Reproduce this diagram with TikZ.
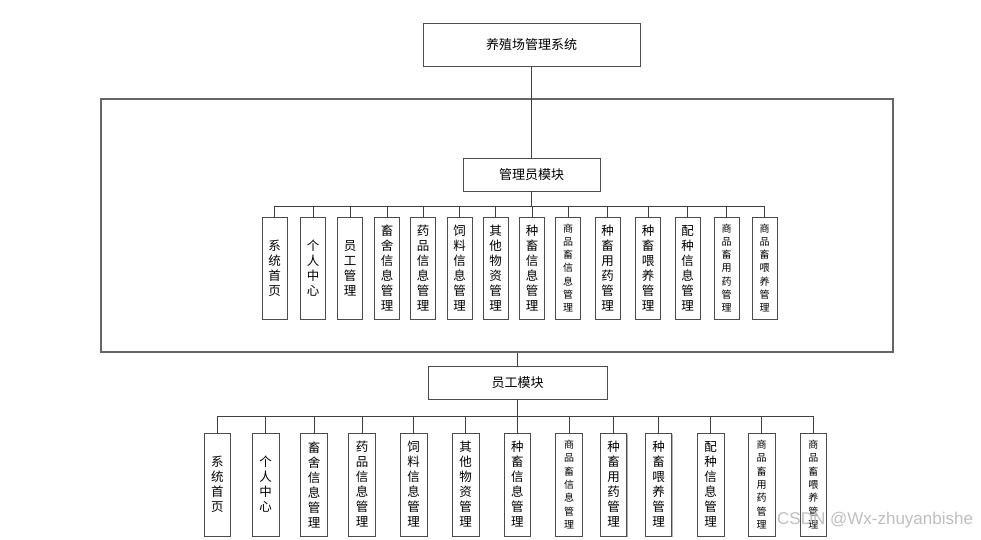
\documentclass[tikz,border=0pt]{standalone}
\usepackage{fontspec}
\newfontfamily\cjk{Noto Sans CJK SC}
\newfontfamily\wmfont{Liberation Sans}
\usetikzlibrary{shadows}
\begin{document}
\begin{tikzpicture}[x=1pt,y=-1pt,
  box/.style={draw=black!70, line width=0.8pt, fill=white, inner sep=0pt,
    drop shadow={shadow xshift=0.8pt, shadow yshift=-0.8pt, fill=black!50, opacity=0.6},
    font=\cjk\fontsize{13}{15}\selectfont},
  abox/.style={box, minimum width=25pt, minimum height=102pt, align=center,
    font=\cjk\fontsize{12.5}{15}\selectfont},
  ebox/.style={box, minimum width=26.5pt, minimum height=103pt, align=center,
    font=\cjk\fontsize{12.5}{15}\selectfont},
  small/.style={font=\cjk\fontsize{10}{13.3}\selectfont},
  conn/.style={draw=black!75, line width=0.8pt},
  frame/.style={draw=black!60, line width=1.2pt}]
\useasboundingbox (0,0) rectangle (981,539);
\fill[white] (0,0) rectangle (981,539);

% frame
\node[frame, minimum width=792pt, minimum height=253pt, inner sep=0pt] (frm) at (497,225.5) {};

% top nodes
\node[box, minimum width=217pt, minimum height=43pt] (sys) at (531.5,44.5) {养殖场管理系统};
\node[box, minimum width=137pt, minimum height=33pt] (adm) at (531.5,174.5) {管理员模块};
\node[box, minimum width=179pt, minimum height=33pt] (emp) at (517.5,382.5) {员工模块};

% admin children
\node[abox] (a1) at (274.5,268) {系\\统\\首\\页};
\node[abox] (a2) at (313,268) {个\\人\\中\\心};
\node[abox] (a3) at (350,268) {员\\工\\管\\理};
\node[abox] (a4) at (387,268) {畜\\舍\\信\\息\\管\\理};
\node[abox] (a5) at (423,268) {药\\品\\信\\息\\管\\理};
\node[abox] (a6) at (459.5,268) {饲\\料\\信\\息\\管\\理};
\node[abox] (a7) at (495.5,268) {其\\他\\物\\资\\管\\理};
\node[abox] (a8) at (532,268) {种\\畜\\信\\息\\管\\理};
\node[abox, small] (a9) at (568,268) {商\\品\\畜\\信\\息\\管\\理};
\node[abox] (a10) at (607.5,268) {种\\畜\\用\\药\\管\\理};
\node[abox] (a11) at (648,268) {种\\畜\\喂\\养\\管\\理};
\node[abox] (a12) at (687.5,268) {配\\种\\信\\息\\管\\理};
\node[abox, small] (a13) at (726.5,268) {商\\品\\畜\\用\\药\\管\\理};
\node[abox, small] (a14) at (764.5,268) {商\\品\\畜\\喂\\养\\管\\理};

% employee children
\node[ebox] (e1) at (217.3,484.5) {系\\统\\首\\页};
\node[ebox] (e2) at (265.7,484.5) {个\\人\\中\\心};
\node[ebox] (e3) at (314,484.5) {畜\\舍\\信\\息\\管\\理};
\node[ebox] (e4) at (362,484.5) {药\\品\\信\\息\\管\\理};
\node[ebox] (e5) at (413.7,484.5) {饲\\料\\信\\息\\管\\理};
\node[ebox] (e6) at (465.7,484.5) {其\\他\\物\\资\\管\\理};
\node[ebox] (e7) at (517.3,484.5) {种\\畜\\信\\息\\管\\理};
\node[ebox, small] (e8) at (569,484.5) {商\\品\\畜\\信\\息\\管\\理};
\node[ebox] (e9) at (613.5,484.5) {种\\畜\\用\\药\\管\\理};
\node[ebox] (e10) at (658.5,484.5) {种\\畜\\喂\\养\\管\\理};
\node[ebox] (e11) at (710.7,484.5) {配\\种\\信\\息\\管\\理};
\node[ebox, small] (e12) at (761.7,484.5) {商\\品\\畜\\用\\药\\管\\理};
\node[ebox, small] (e13) at (813.3,484.5) {商\\品\\畜\\喂\\养\\管\\理};

% connectors
\draw[conn] (sys.south) -- (adm.north);
\foreach \i in {1,...,14} {
  \draw[conn] (adm.south) -- ++(0,15) -| (a\i.north);
}
\draw[conn] (emp.north) -- (emp.north |- frm.south);
\foreach \i in {1,...,13} {
  \draw[conn] (emp.south) -- ++(0,17) -| (e\i.north);
}

% watermark
\node[anchor=west, inner sep=0pt, text=black!25, font=\wmfont\fontsize{17}{19}\selectfont] (wm) at (777,520) {CSDN @Wx-zhuyanbishe};
\end{tikzpicture}
\end{document}
